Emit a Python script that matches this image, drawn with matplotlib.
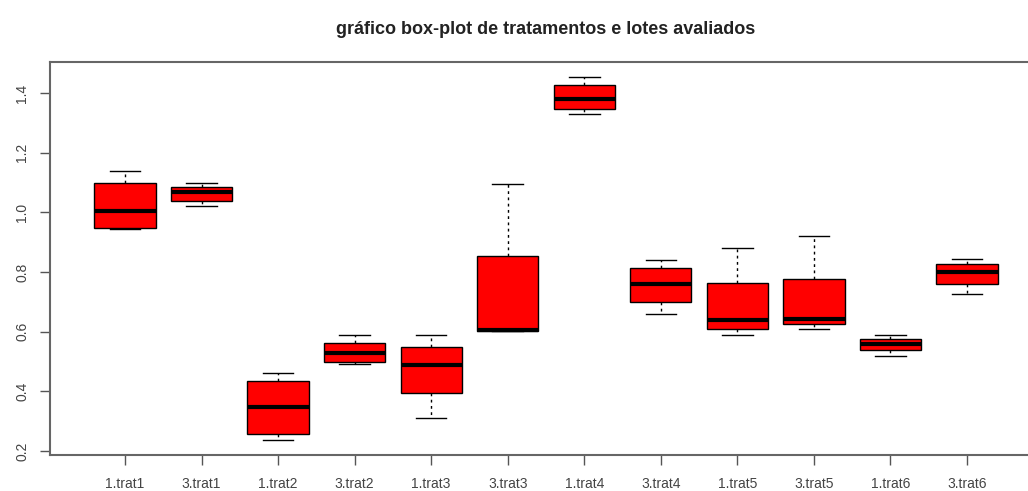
import matplotlib
matplotlib.use("Agg")
import matplotlib.pyplot as plt

plt.rcParams['font.family'] = ['Liberation Sans', 'DejaVu Sans']

# groups (lote.tratamento)
labels = ['1.trat1', '3.trat1', '1.trat2', '3.trat2', '1.trat3', '3.trat3',
          '1.trat4', '3.trat4', '1.trat5', '3.trat5', '1.trat6', '3.trat6']

# five-number summaries
whisker_lo = [0.943, 1.021, 0.235, 0.492, 0.310, 0.601, 1.329, 0.660, 0.589, 0.610, 0.520, 0.727]
q1 = [0.949, 1.038, 0.256, 0.499, 0.393, 0.601, 1.347, 0.698, 0.610, 0.625, 0.537, 0.759]
median = [1.005, 1.067, 0.346, 0.527, 0.489, 0.604, 1.381, 0.761, 0.640, 0.641, 0.557, 0.800]
q3 = [1.099, 1.086, 0.436, 0.561, 0.550, 0.854, 1.428, 0.815, 0.763, 0.776, 0.575, 0.828]
whisker_hi = [1.140, 1.098, 0.460, 0.590, 0.589, 1.097, 1.456, 0.842, 0.881, 0.920, 0.589, 0.843]

stats = []
for i in range(len(labels)):
    stats.append({
        'label': labels[i],
        'whislo': whisker_lo[i],
        'q1': q1[i],
        'med': median[i],
        'q3': q3[i],
        'whishi': whisker_hi[i],
        'fliers': [],
    })

fig = plt.figure(figsize=(10.28, 4.91), dpi=100)
ax = fig.add_axes([50 / 1028, 36 / 491, 992 / 1028, 393 / 491])

ax.bxp(
    stats,
    widths=0.8,
    patch_artist=True,
    showfliers=False,
    boxprops=dict(facecolor='red', edgecolor='black', linewidth=1.0),
    medianprops=dict(color='black', linewidth=3.0, solid_capstyle='butt'),
    whiskerprops=dict(color='black', linewidth=1.0, linestyle=(0, (2, 2.5))),
    capprops=dict(color='black', linewidth=1.0),
    capwidths=0.4,
)

# R style limits (4% extension)
lo, hi = min(whisker_lo), max(whisker_hi)
pad = 0.04 * (hi - lo)
ax.set_ylim(lo - pad, hi + pad)
ax.set_xlim(0.02, 12.98)

ax.set_yticks([0.2, 0.4, 0.6, 0.8, 1.0, 1.2, 1.4])
ax.set_yticklabels(['0.2', '0.4', '0.6', '0.8', '1.0', '1.2', '1.4'],
                   rotation=90, va='center')
ax.set_xticks(range(1, len(labels) + 1))
ax.set_xticklabels(labels)

ax.tick_params(axis='both', labelsize=10, colors='#555555', labelcolor='#444444',
               length=7, width=1.0)
ax.tick_params(axis='y', pad=8)
ax.tick_params(axis='x', pad=9)
for s in ax.spines.values():
    s.set_color('#666666')
    s.set_linewidth(1.5)

fig.text(546 / 1028, 1 - 30 / 491, 'gráfico box-plot de tratamentos e lotes avaliados',
         ha='center', va='center', fontsize=13, fontweight='bold', color='#222222')

fig.savefig('out.png', dpi=100)
